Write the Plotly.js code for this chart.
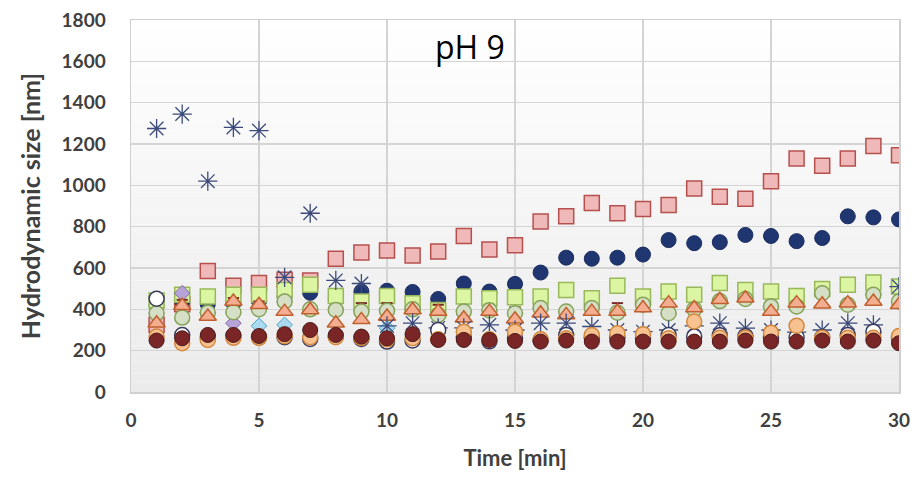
<!DOCTYPE html>
<html>
<head>
<meta charset="utf-8">
<script src="https://cdn.plot.ly/plotly-3.0.1.min.js"></script>
<style>html,body{margin:0;padding:0;background:#fff;}#chart{width:915px;height:477px;}</style>
</head>
<body>
<div id="chart"></div>
<script>
// Time [min]
const time = [1,2,3,4,5,6,7,8,9,10,11,12,13,14,15,16,17,18,19,20,21,22,23,24,25,26,27,28,29,30];

// Hydrodynamic size [nm] per sample series
const pinkSquare   = [325,425,585,514,527,543,540,645,675,685,660,680,755,690,710,825,850,915,865,885,905,985,945,935,1020,1130,1095,1130,1190,1145];
const navyCircle   = [420,440,425,430,440,460,480,450,486,490,484,450,525,486,523,578,650,645,650,665,735,720,725,760,755,730,745,850,845,835];
const greenSquare  = [443,470,462,470,470,494,519,465,438,465,430,397,462,454,459,462,494,454,514,462,486,470,527,494,486,465,498,519,530,510];
const purpleDiam   = [381,478,384,333,401,438,400,397,389,393,400,373,389,395,381,406,389,406,384,422,381,400,440,450,414,414,478,422,470,438];
const dashMark     = [null,446,null,455,438,null,null,null,430,430,418,422,null,422,410,null,null,null,430,null,null,null,null,null,null,null,null,null,null,null];
const greenCircle  = [381,360,384,386,401,438,400,397,389,393,400,373,389,395,381,406,389,406,384,422,381,400,440,450,414,414,478,422,470,438];
const triangle     = [333,417,365,438,422,389,397,333,349,365,397,389,357,389,352,381,373,389,389,406,430,406,446,454,389,430,425,430,438,422];
const blueDiam     = [249,260,276,276,320,325,300,276,268,309,280,252,252,252,247,244,249,244,244,244,244,244,244,249,244,244,249,244,249,236];
const asterisk     = [1275,1345,1020,1280,1265,555,865,540,525,320,333,310,310,325,300,333,333,317,300,292,300,320,333,309,300,290,300,333,325,510];
const whiteCircle  = [451,276,265,270,265,265,257,270,257,244,249,300,265,245,260,250,276,262,262,260,276,268,275,270,265,265,265,276,292,262];
const orangeCircle = [268,236,252,262,262,270,265,265,262,255,260,255,292,255,292,255,260,276,284,280,260,341,262,262,287,320,262,262,262,271];
const maroonCircle = [249,260,276,276,271,280,300,276,268,260,280,252,252,252,247,244,249,244,244,244,244,244,244,249,244,244,249,244,249,236];

function series(y, symbol, fill, line, size, lw) {
  return {
    x: time, y: y, type: 'scatter', mode: 'markers', hoverinfo: 'x+y',
    marker: {symbol: symbol, size: size, color: fill, line: {color: line, width: lw}}
  };
}

const traces = [
  series(pinkSquare,  'square',  '#f0b9b9', '#b5504d', 15, 1.5),
  series(navyCircle,  'circle',  '#1f3670', '#1a2d5e', 15, 1),
  series(greenSquare, 'square',  '#dcf5a2', '#98b85a', 15, 1.5),
  series(purpleDiam,  'diamond', '#b6a4d8', '#8466a8', 12, 1),
  series(dashMark,    'line-ew', '#7a2a2a', '#7a2a2a', 8, 2),
  series(greenCircle, 'circle',  '#d5dfc5', '#86a35a', 15, 1.5),
  series(triangle,    'triangle-up', '#f3ae92', '#c0602e', 15, 1.5),
  series(blueDiam,    'diamond', '#abd9ef', '#4aa6c8', 12, 1),
  series(asterisk,    'asterisk-open', '#3b4a7a', '#3b4a7a', 16, 1.3),
  series(whiteCircle, 'circle',  '#ffffff', '#3a3a5e', 15, 1.5),
  series(orangeCircle,'circle',  '#f8c290', '#d2883e', 15, 1.5),
  series(maroonCircle,'circle',  '#7a2626', '#4e1b1b', 15, 1)
];

// background gradient bands (white top -> light gray bottom)
const shapes = [];
const nb = 40;
for (let i = 0; i < nb; i++) {
  const t = i / (nb - 1);
  const c = Math.round(255 - t * 20);
  shapes.push({type: 'rect', xref: 'paper', yref: 'paper', x0: 0, x1: 1,
    y0: 1 - (i + 1) / nb, y1: 1 - i / nb, line: {width: 0},
    fillcolor: 'rgb(' + c + ',' + c + ',' + c + ')', layer: 'below'});
}

const fam = 'Lato, "Open Sans", sans-serif';
const tickFont = {family: fam, size: 19, color: '#404040', weight: 'bold'};
const layout = {
  width: 915, height: 477,
  margin: {l: 131, r: 16, t: 20, b: 85},
  paper_bgcolor: '#ffffff', plot_bgcolor: 'rgba(0,0,0,0)',
  showlegend: false,
  shapes: shapes,
  xaxis: {
    range: [0, 30], dtick: 5, tick0: 0,
    showgrid: true, gridcolor: '#d4d4d4', gridwidth: 1.5,
    zeroline: false, showline: true, mirror: true, linecolor: '#cfcfcf', linewidth: 1.5,
    ticks: '', ticklabelstandoff: 11, tickfont: tickFont,
    title: {text: 'Time [min]', font: {family: fam, size: 22, color: '#404040', weight: 'bold'}, standoff: 20}
  },
  yaxis: {
    range: [0, 1800], dtick: 200, tick0: 0,
    showgrid: true, gridcolor: '#d4d4d4', gridwidth: 1.5,
    zeroline: false, showline: true, mirror: true, linecolor: '#cfcfcf', linewidth: 1.5,
    ticks: '', ticklabelstandoff: 20, tickfont: tickFont,
    title: {text: 'Hydrodynamic size [nm]', font: {family: fam, size: 25, color: '#404040', weight: 'bold'}, standoff: 14}
  },
  annotations: [{
    text: 'pH 9', xref: 'paper', yref: 'paper', x: 0.442, y: 0.93,
    xanchor: 'center', yanchor: 'middle', showarrow: false,
    font: {family: '"Open Sans", sans-serif', size: 32, color: '#000000'}
  }]
};

Plotly.newPlot('chart', traces, layout, {displayModeBar: false, staticPlot: true});
</script>
</body>
</html>
